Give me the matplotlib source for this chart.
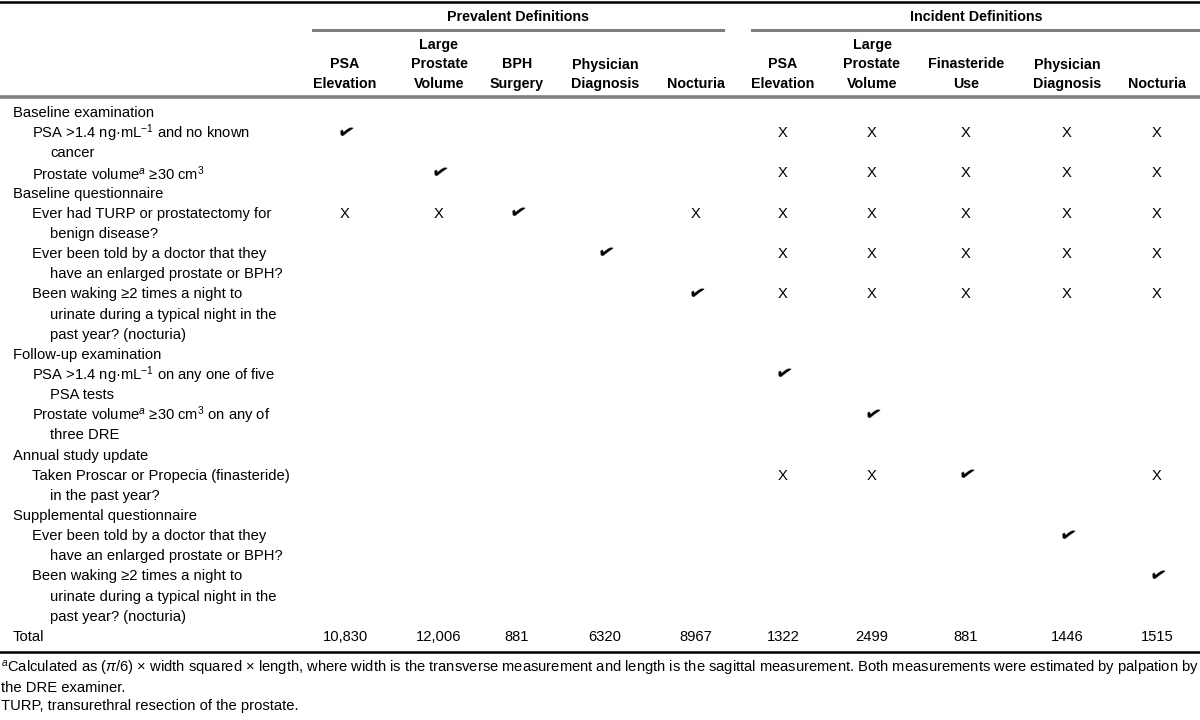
import matplotlib
matplotlib.use("Agg")
import matplotlib.pyplot as plt

plt.rcParams['font.family'] = ['Liberation Sans', 'DejaVu Sans']
plt.rcParams['mathtext.fontset'] = 'custom'
plt.rcParams['mathtext.rm'] = 'Liberation Sans'
plt.rcParams['mathtext.it'] = 'Liberation Sans:italic'
plt.rcParams['mathtext.bf'] = 'Liberation Sans:bold'

# ---- table content ----
groups = ["Prevalent Definitions", "Incident Definitions"]
columns = ["PSA\nElevation", "Large\nProstate\nVolume", "BPH\nSurgery", "Physician\nDiagnosis", "Nocturia",
           "PSA\nElevation", "Large\nProstate\nVolume", "Finasteride\nUse", "Physician\nDiagnosis", "Nocturia"]

# C = check mark, X = excluded, . = blank
sections = [
    ("Baseline examination", [
        (["PSA >1.4 ng·mL$^{-1}$ and no known", "cancer"], "C....XXXXX"),
        (["Prostate volume$^{\\it a}$ ≥30 cm$^{3}$"], ".C...XXXXX"),
    ]),
    ("Baseline questionnaire", [
        (["Ever had TURP or prostatectomy for", "benign disease?"], "XXC.XXXXXX"),
        (["Ever been told by a doctor that they", "have an enlarged prostate or BPH?"], "...C.XXXXX"),
        (["Been waking ≥2 times a night to", "urinate during a typical night in the",
          "past year? (nocturia)"], "....CXXXXX"),
    ]),
    ("Follow-up examination", [
        (["PSA >1.4 ng·mL$^{-1}$ on any one of five", "PSA tests"], ".....C...."),
        (["Prostate volume$^{\\it a}$ ≥30 cm$^{3}$ on any of", "three DRE"], "......C..."),
    ]),
    ("Annual study update", [
        (["Taken Proscar or Propecia (finasteride)", "in the past year?"], ".....XXC.X"),
    ]),
    ("Supplemental questionnaire", [
        (["Ever been told by a doctor that they", "have an enlarged prostate or BPH?"], "........C."),
        (["Been waking ≥2 times a night to", "urinate during a typical night in the",
          "past year? (nocturia)"], ".........C"),
    ]),
]
totals = ["10,830", "12,006", "881", "6320", "8967", "1322", "2499", "881", "1446", "1515"]

footnotes = [
    "$^{\\it a}$Calculated as ($\\pi$/6) × width squared × length, where width is the transverse measurement "
    "and length is the sagittal measurement. Both measurements were estimated by palpation by",
    "the DRE examiner.",
    "TURP, transurethral resection of the prostate.",
]

# ---- layout (pixels) ----
W, H = 1200, 720
col_x = [345, 439, 517, 605, 696, 783, 872, 966, 1067, 1157]
group_span = [(313, 723), (752, 1200)]
y0, step = 113, 20.15
fs = 10.6
fs_head = 10.3
gray = "#7f7f7f"

fig = plt.figure(figsize=(12, 7.2), dpi=100)
ax = fig.add_axes([0, 0, 1, 1])
ax.set_xlim(0, W)
ax.set_ylim(H, 0)
ax.axis("off")

# rules
ax.plot([0, W], [1.5, 1.5], color="black", lw=1.8)
for (a, b) in group_span:
    ax.plot([a, b], [30, 30], color=gray, lw=2.2)
ax.plot([0, W], [97, 97], color=gray, lw=2.6)
ax.plot([0, W], [652, 652], color="black", lw=1.8)

# header
for g, (a, b) in zip(groups, group_span):
    ax.text((a + b) / 2, 17, g, ha="center", va="center", fontsize=fs_head, fontweight="bold")
for x, c in zip(col_x, columns):
    parts = c.split("\n")
    for k, p in enumerate(reversed(parts)):
        ax.text(x, 84 - k * 19.5, p, ha="center", va="center", fontsize=fs_head, fontweight="bold")


def draw_mark(x, y, m):
    if m == "C":
        ax.text(x + 1, y, "✔", ha="center", va="center", fontsize=14,
                family="DejaVu Sans", rotation=-14)
    elif m == "X":
        ax.text(x, y, "X", ha="center", va="center", fontsize=fs)


# body
line = 0
for title, items in sections:
    ax.text(13, y0 + line * step, title, ha="left", va="center", fontsize=fs)
    line += 1
    for lines, marks in items:
        y_first = y0 + line * step
        for k, t in enumerate(lines):
            ax.text(32 if k == 0 else 50, y0 + line * step, t, ha="left", va="center", fontsize=fs)
            line += 1
        for x, m in zip(col_x, marks):
            draw_mark(x, y_first, m)

y_tot = y0 + line * step
ax.text(13, y_tot, "Total", ha="left", va="center", fontsize=fs)
for x, t in zip(col_x, totals):
    ax.text(x, y_tot, t, ha="center", va="center", fontsize=fs)

# footnotes
for k, t in enumerate(footnotes):
    ax.text(1, 669 + k * 18.5, t, ha="left", va="center", fontsize=10.6)

fig.savefig("out.png", dpi=100, facecolor="white")
